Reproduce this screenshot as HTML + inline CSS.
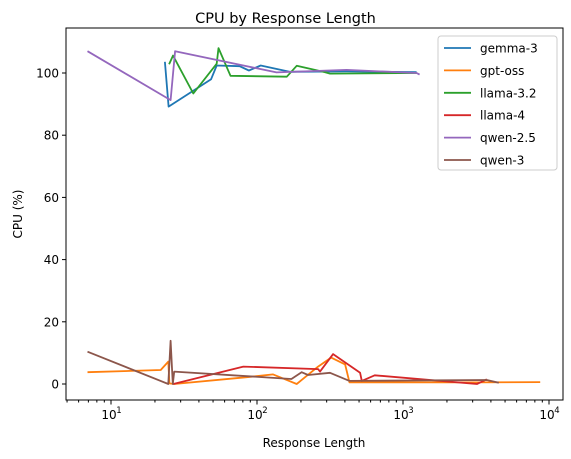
<!DOCTYPE html>
<html><head><meta charset="utf-8"><style>
body{margin:0;background:#fff;}
svg{display:block;font-family:"DejaVu Sans","Liberation Sans",sans-serif;}
</style></head><body>
<svg id="c" width="571" height="459"></svg>
<script>
const seriesNames=["gemma-3","gpt-oss","llama-3.2","llama-4","qwen-2.5","qwen-3"];
const seriesColors=["#1f77b4","#ff7f0e","#2ca02c","#d62728","#9467bd","#8c564b"];
const gemmaX=[23.4,24.8,48.5,53,76,88,106,167,410,1240];
const gemmaY=[103.6,89.2,98,102.4,102.2,100.8,102.4,100.4,100.5,100.3];
const gptX=[6.9,21.9,24.7,25.1,27.1,85,129,187,262,322,401,430,3210,8700];
const gptY=[3.8,4.5,7.2,0.2,0,2.2,3.1,0,5.6,8.5,6.3,0.5,0.5,0.6];
const llama32X=[25,26.6,36.6,53,54.5,65.8,160,187,291,316,1240];
const llama32Y=[102.8,105.6,93.4,103,108,99.1,98.8,102.3,100.3,99.8,100];
const llama4X=[26.7,80.6,262,270,332,508,522,640,3210,3750];
const llama4Y=[0,5.6,4.8,4,9.6,3.6,1,2.8,0,1.5];
const qwen25X=[6.9,25.6,27.5,136,411,1240,1300];
const qwen25Y=[107,91.3,107,100.2,101,100,99.5];
const qwen3X=[6.9,24.7,25.6,26.5,27.1,172,202,224,316,430,3750,4530];
const qwen3Y=[10.4,0,13.9,0,4,1.6,3.8,2.9,3.6,1,1.3,0.4];
const allX=[gemmaX,gptX,llama32X,llama4X,qwen25X,qwen3X];
const allY=[gemmaY,gptY,llama32Y,llama4Y,qwen25Y,qwen3Y];
const yTicks=[0,20,40,60,80,100];
const xTicks=[1,2,3,4];

const L=66,R=563,T=28,B=400;
const sx=v=>111+(Math.log10(v)-1)*146;
const sy=v=>384-v*3.11;
const svg=document.getElementById('c');
const NS="http://www.w3.org/2000/svg";
function mk(t,a,p){const e=document.createElementNS(NS,t);for(const k in a)e.setAttribute(k,a[k]);(p||svg).appendChild(e);return e;}

let t=mk('text',{x:285.5,y:23,'text-anchor':'middle','font-size':14.5,fill:'#000'});t.textContent='CPU by Response Length';



// series
for(let i=0;i<seriesNames.length;i++){
 const pts=allX[i].map((x,j)=>sx(x).toFixed(1)+','+sy(allY[i][j]).toFixed(1)).join(' ');
 const pl=mk('polyline',{points:pts,fill:'none',stroke:seriesColors[i],'stroke-width':1.8,'stroke-linejoin':'round'});
 
 
}
// axes frame
const fr=mk('rect',{x:L,y:T,width:R-L,height:B-T,fill:'none',stroke:'#000','stroke-width':1});



// y ticks
yTicks.forEach(v=>{
 const y=sy(v);
 mk('line',{x1:L-4,x2:L,y1:y,y2:y,stroke:'#000'});
 const tx=mk('text',{x:L-7,y:y+4.5,'text-anchor':'end','font-size':12,fill:'#000'});tx.textContent=v;
 
 
});
// x ticks
for(let d=0;d<=4;d++){
 for(let m=1;m<10;m++){
  const v=m*Math.pow(10,d);const x=sx(v);
  if(x<L||x>R)continue;
  mk('line',{x1:x,x2:x,y1:B,y2:B+(m===1?4.5:2.5),stroke:'#000'});
 }
}
xTicks.forEach(p=>{
 const x=sx(Math.pow(10,p));
 const tx=mk('text',{x:x-2,y:B+19,'text-anchor':'middle','font-size':12,fill:'#000'});
 tx.textContent='10';
 
 
 const s=mk('text',{x:x+8,y:B+13,'text-anchor':'middle','font-size':8.5,fill:'#000'});s.textContent=p;
});
t=mk('text',{x:314,y:447,'text-anchor':'middle','font-size':12,fill:'#000'});t.textContent='Response Length';


t=mk('text',{x:0,y:0,'text-anchor':'middle','font-size':12,fill:'#000',transform:'translate(22,214) rotate(-90)'});t.textContent='CPU (%)';



// legend
const lg=mk('g',{});


mk('rect',{x:438,y:36,width:119,height:134,rx:3,fill:'#fff','fill-opacity':0.8,stroke:'#ccc'},lg);
seriesNames.forEach((n,i)=>{
 const y=48+i*22.4;
 const g=mk('g',{},lg);
 
 
 mk('line',{x1:444,x2:471,y1:y,y2:y,stroke:seriesColors[i],'stroke-width':1.8},g);
 const tx=mk('text',{x:480,y:y+4.5,'font-size':12,fill:'#000'},g);tx.textContent=n;
});
</script>
</body></html>
